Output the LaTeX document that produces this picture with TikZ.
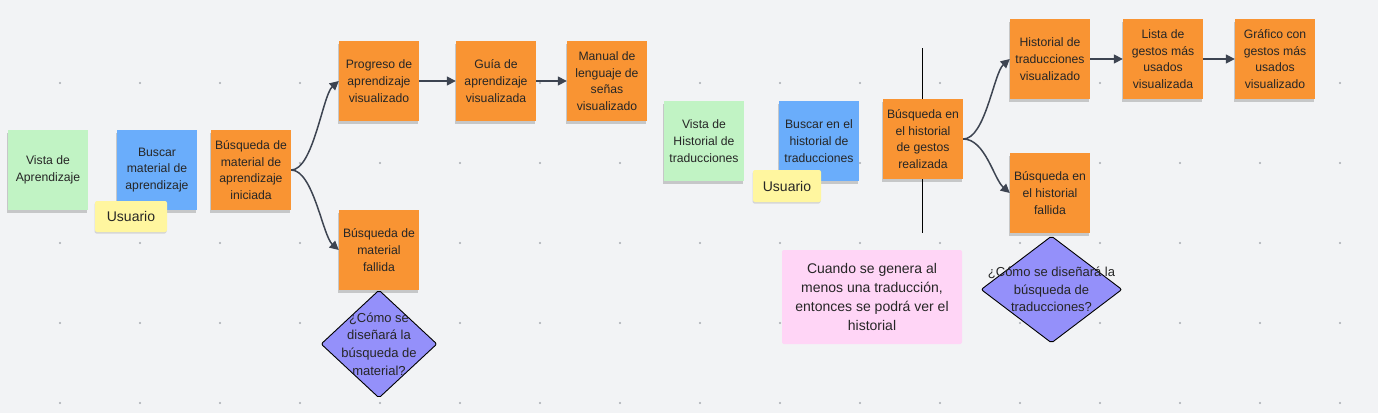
\documentclass[tikz,border=0pt]{standalone}
\usepackage{fontspec}
\setmainfont{Liberation Sans}
\usetikzlibrary{arrows.meta,shapes.geometric,shadows,calc}
\definecolor{bg}{HTML}{F2F3F5}
\definecolor{dotc}{HTML}{A8ACB2}
\definecolor{greenn}{HTML}{C1F3C4}
\definecolor{bluen}{HTML}{6AADFB}
\definecolor{orangen}{HTML}{F99433}
\definecolor{yellown}{HTML}{FFF69F}
\definecolor{pinkn}{HTML}{FFD5F6}
\definecolor{purplen}{HTML}{9490FA}
\definecolor{arrowc}{HTML}{3D4451}
\definecolor{txt}{HTML}{262626}
\begin{document}
\begin{tikzpicture}[x=1pt,y=-1pt,
  note/.style={minimum width=80pt,minimum height=80pt,inner sep=0pt,align=center,
    text=txt,font=\fontsize{12.2}{16.7}\selectfont,
    drop shadow={shadow xshift=-1pt,shadow yshift=-2.5pt,opacity=.18,fill=black}},
  gnote/.style={note,fill=greenn},
  bnote/.style={note,fill=bluen},
  onote/.style={note,fill=orangen},
  unote/.style={fill=yellown,rounded corners=2pt,inner sep=0pt,text=txt,
    font=\fontsize{14}{16}\selectfont,
    drop shadow={shadow xshift=-0.5pt,shadow yshift=-1.5pt,opacity=.12,fill=black}},
  pnote/.style={fill=pinkn,rounded corners=2pt,inner sep=0pt,text=txt,align=center,
    minimum width=180pt,minimum height=94pt,font=\fontsize{14}{18.8}\selectfont},
  diam/.style={diamond,fill=purplen,draw=black,line width=0.9pt,inner sep=0pt,
    rounded corners=2pt},
  dtext/.style={align=center,text=txt,inner sep=0pt,font=\fontsize{13}{17.7}\selectfont},
  arr/.style={draw=arrowc,line width=1.5pt,-{Triangle[length=9pt,width=9pt]}}
]
\fill[bg] (0,0) rectangle (1378,413);
\useasboundingbox (0,0) rectangle (1378,413);
% grid dots
\foreach \gx in {60,140,...,1340}{
  \foreach \gy in {83,163,...,403}{
    \fill[dotc] (\gx,\gy) circle (1.1pt);
  }
}
% vertical separator line
\coordinate (lt) at (922,48);
\coordinate (lb) at (922,233);
\draw[black,line width=0.9pt] (lt) -- (lb);

% left flow
\node[gnote] (va) at (48,170) {Vista de\\Aprendizaje};
\node[bnote] (bm) at (157,170) {Buscar\\material de\\aprendizaje};
\node[unote,minimum width=72pt,minimum height=31pt] (u1) at (131,216.5) {Usuario};
\node[onote] (bi) at (251,170) {Búsqueda de\\material de\\aprendizaje\\iniciada};
\node[onote] (pv) at (379,81) {Progreso de\\aprendizaje\\visualizado};
\node[onote] (bf) at (379,250) {Búsqueda de\\material\\fallida};
\node[onote] (gu) at (496,81) {Guía de\\aprendizaje\\visualizada};
\node[onote] (ma) at (607,81) {Manual de\\lenguaje de\\señas\\visualizado};
\node[diam,minimum width=116pt,minimum height=108pt] (d1) at (379,344) {};
\node[dtext] (d1t) at (d1.center) {¿Cómo se\\diseñará la\\búsqueda de\\material?};

% right flow
\node[gnote] (vh) at (704,141) {Vista de\\Historial de\\traducciones};
\node[bnote] (bh) at (819,141) {Buscar en el\\historial de\\traducciones};
\node[unote,minimum width=68pt,minimum height=32pt] (u2) at (787,186) {Usuario};
\node[pnote] (pk) at (872,297) {Cuando se genera al\\menos una traducción,\\entonces se podrá ver el\\historial};
\node[onote] (br) at (923,139) {Búsqueda en\\el historial\\de gestos\\realizada};
\node[onote] (hv) at (1050,59) {Historial de\\traducciones\\visualizado};
\node[onote] (li) at (1163,59) {Lista de\\gestos más\\usados\\visualizada};
\node[onote] (gr) at (1275,59) {Gráfico con\\gestos más\\usados\\visualizado};
\node[onote] (hf) at (1050,193) {Búsqueda en\\el historial\\fallida};
\node[diam,minimum width=141pt,minimum height=107pt] (d2) at (1051.5,289.5) {};
\node[dtext] (d2t) at (d2.center) {¿Cómo se diseñará la\\búsqueda de\\traducciones?};

% connectors
\draw[arr] (bi.east) .. controls ($(bi.east)+(22,0)$) and ($(pv.west)+(-16,14)$) .. (pv.west);
\draw[arr] (bi.east) .. controls ($(bi.east)+(22,0)$) and ($(bf.west)+(-16,-14)$) .. (bf.west);
\draw[arr] (pv.east) -- (gu.west);
\draw[arr] (gu.east) -- (ma.west);
\draw[arr] (br.east) .. controls ($(br.east)+(22,0)$) and ($(hv.west)+(-16,14)$) .. (hv.west);
\draw[arr] (br.east) .. controls ($(br.east)+(22,0)$) and ($(hf.west)+(-16,-14)$) .. (hf.west);
\draw[arr] (hv.east) -- (li.west);
\draw[arr] (li.east) -- (gr.west);
\end{tikzpicture}
\end{document}
